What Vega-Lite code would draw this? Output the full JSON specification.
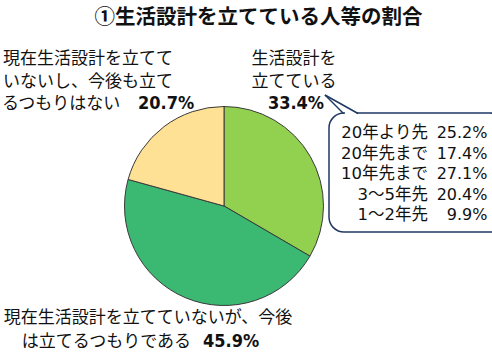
{
  "$schema": "https://vega.github.io/schema/vega-lite/v6.json",
  "width": 492,
  "height": 356,
  "padding": 0,
  "autosize": {"type": "fit", "contains": "padding"},
  "background": "white",
  "config": {
    "view": {"stroke": null},
    "axis": {"disable": true},
    "text": {"font": "DejaVu Sans, Noto Sans CJK JP", "fontSize": 17, "baseline": "middle", "color": "#111111"}
  },
  "datasets": {
    "slices": [
      {"no": 1, "item": "生活設計を立てている", "share": 0.334},
      {"no": 2, "item": "現在生活設計を立てていないが、今後は立てるつもりである", "share": 0.459},
      {"no": 3, "item": "現在生活設計を立てていないし、今後も立てるつもりはない", "share": 0.207}
    ],
    "breakdown": [
      {"period": "20年より先", "share": 0.252},
      {"period": "20年先まで", "share": 0.174},
      {"period": "10年先まで", "share": 0.271},
      {"period": "3～5年先", "share": 0.204},
      {"period": "1～2年先", "share": 0.099}
    ]
  },
  "resolve": {"scale": {"y": "independent"}},
  "layer": [
    {
      "data": {"values": [{"title": "①生活設計を立てている人等の割合"}]},
      "mark": {"type": "text", "fontSize": 20.5, "fontWeight": "bold", "align": "center", "font": "Noto Sans CJK JP"},
      "encoding": {
        "x": {"datum": 258.5, "type": "quantitative", "scale": {"domain": [0, 492], "nice": false, "zero": false}},
        "y": {"datum": 17.5, "type": "quantitative", "scale": {"domain": [0, 356], "nice": false, "zero": false, "reverse": true}},
        "text": {"field": "title"}
      }
    },
    {
      "data": {"name": "slices"},
      "mark": {"type": "arc", "outerRadius": 99.5, "stroke": "#3a3a3a", "strokeWidth": 1},
      "encoding": {
        "x": {"datum": 224, "type": "quantitative", "scale": {"domain": [0, 492], "nice": false, "zero": false}},
        "y": {"datum": 206, "type": "quantitative", "scale": {"domain": [0, 356], "nice": false, "zero": false, "reverse": true}},
        "theta": {"field": "share", "type": "quantitative", "stack": true},
        "order": {"field": "no", "type": "quantitative"},
        "color": {
          "field": "item", "type": "nominal", "legend": null,
          "scale": {
            "domain": ["生活設計を立てている", "現在生活設計を立てていないが、今後は立てるつもりである", "現在生活設計を立てていないし、今後も立てるつもりはない"],
            "range": ["#92D050", "#3BB872", "#FFE195"]
          }
        }
      }
    },
    {
      "data": {"values": [{"text": ["生活設計を", "立てている"]}]},
      "mark": {"type": "text", "align": "center", "lineHeight": 22.5},
      "encoding": {
        "x": {"datum": 294, "type": "quantitative", "scale": {"domain": [0, 492], "nice": false, "zero": false}},
        "y": {"datum": 59, "type": "quantitative", "scale": {"domain": [0, 356], "nice": false, "zero": false, "reverse": true}},
        "text": {"field": "text"}
      }
    },
    {
      "data": {"values": [{"text": ["現在生活設計を立てて", "いないし、今後も立て"]}]},
      "mark": {"type": "text", "align": "left", "lineHeight": 22.5},
      "encoding": {
        "x": {"datum": 3, "type": "quantitative", "scale": {"domain": [0, 492], "nice": false, "zero": false}},
        "y": {"datum": 59, "type": "quantitative", "scale": {"domain": [0, 356], "nice": false, "zero": false, "reverse": true}},
        "text": {"field": "text"}
      }
    },
    {
      "data": {"values": [{"text": "るつもりはない"}]},
      "mark": {"type": "text", "align": "left"},
      "encoding": {
        "x": {"datum": 2, "type": "quantitative", "scale": {"domain": [0, 492], "nice": false, "zero": false}},
        "y": {"datum": 104, "type": "quantitative", "scale": {"domain": [0, 356], "nice": false, "zero": false, "reverse": true}},
        "text": {"field": "text"}
      }
    },
    {
      "data": {"values": [{"text": "現在生活設計を立てていないが、今後"}]},
      "mark": {"type": "text", "align": "center"},
      "encoding": {
        "x": {"datum": 148, "type": "quantitative", "scale": {"domain": [0, 492], "nice": false, "zero": false}},
        "y": {"datum": 318, "type": "quantitative", "scale": {"domain": [0, 356], "nice": false, "zero": false, "reverse": true}},
        "text": {"field": "text"}
      }
    },
    {
      "data": {"values": [{"text": "は立てるつもりである"}]},
      "mark": {"type": "text", "align": "right"},
      "encoding": {
        "x": {"datum": 191, "type": "quantitative", "scale": {"domain": [0, 492], "nice": false, "zero": false}},
        "y": {"datum": 342, "type": "quantitative", "scale": {"domain": [0, 356], "nice": false, "zero": false, "reverse": true}},
        "text": {"field": "text"}
      }
    },
    {
      "data": {"name": "slices"},
      "transform": [{"filter": "datum.no == 1"}],
      "mark": {"type": "text", "align": "center", "fontWeight": "bold", "fontSize": 18, "font": "DejaVu Sans Condensed, DejaVu Sans"},
      "encoding": {
        "x": {"datum": 296, "type": "quantitative", "scale": {"domain": [0, 492], "nice": false, "zero": false}},
        "y": {"datum": 104, "type": "quantitative", "scale": {"domain": [0, 356], "nice": false, "zero": false, "reverse": true}},
        "text": {"field": "share", "type": "quantitative", "format": ".1%"}
      }
    },
    {
      "data": {"name": "slices"},
      "transform": [{"filter": "datum.no == 3"}],
      "mark": {"type": "text", "align": "left", "fontWeight": "bold", "fontSize": 18, "font": "DejaVu Sans Condensed, DejaVu Sans"},
      "encoding": {
        "x": {"datum": 138, "type": "quantitative", "scale": {"domain": [0, 492], "nice": false, "zero": false}},
        "y": {"datum": 104, "type": "quantitative", "scale": {"domain": [0, 356], "nice": false, "zero": false, "reverse": true}},
        "text": {"field": "share", "type": "quantitative", "format": ".1%"}
      }
    },
    {
      "data": {"name": "slices"},
      "transform": [{"filter": "datum.no == 2"}],
      "mark": {"type": "text", "align": "left", "fontWeight": "bold", "fontSize": 18, "font": "DejaVu Sans Condensed, DejaVu Sans"},
      "encoding": {
        "x": {"datum": 203, "type": "quantitative", "scale": {"domain": [0, 492], "nice": false, "zero": false}},
        "y": {"datum": 342, "type": "quantitative", "scale": {"domain": [0, 356], "nice": false, "zero": false, "reverse": true}},
        "text": {"field": "share", "type": "quantitative", "format": ".1%"}
      }
    },
    {
      "data": {"values": [{"note": "callout"}]},
      "mark": {"type": "rect", "cornerRadius": 15, "fill": "white", "stroke": "#1F3864", "strokeWidth": 1.5, "clip": true},
      "encoding": {
        "x": {"datum": 329, "type": "quantitative", "scale": {"domain": [0, 492], "nice": false, "zero": false}},
        "x2": {"datum": 505},
        "y": {"datum": 113, "type": "quantitative", "scale": {"domain": [0, 356], "nice": false, "zero": false, "reverse": true}},
        "y2": {"datum": 232}
      }
    },
    {
      "data": {"values": [{"note": "tail gap"}]},
      "mark": {"type": "rule", "stroke": "white", "strokeWidth": 3},
      "encoding": {
        "x": {"datum": 345, "type": "quantitative", "scale": {"domain": [0, 492], "nice": false, "zero": false}},
        "x2": {"datum": 356.5},
        "y": {"datum": 113, "type": "quantitative", "scale": {"domain": [0, 356], "nice": false, "zero": false, "reverse": true}},
        "y2": {"datum": 113}
      }
    },
    {
      "data": {"values": [{"note": "tail upper"}]},
      "mark": {"type": "rule", "stroke": "#1F3864", "strokeWidth": 1.5},
      "encoding": {
        "x": {"datum": 325, "type": "quantitative", "scale": {"domain": [0, 492], "nice": false, "zero": false}},
        "x2": {"datum": 358},
        "y": {"datum": 95, "type": "quantitative", "scale": {"domain": [0, 356], "nice": false, "zero": false, "reverse": true}},
        "y2": {"datum": 113.5}
      }
    },
    {
      "data": {"values": [{"note": "tail lower"}]},
      "mark": {"type": "rule", "stroke": "#1F3864", "strokeWidth": 1.5},
      "encoding": {
        "x": {"datum": 325, "type": "quantitative", "scale": {"domain": [0, 492], "nice": false, "zero": false}},
        "x2": {"datum": 343.5},
        "y": {"datum": 95, "type": "quantitative", "scale": {"domain": [0, 356], "nice": false, "zero": false, "reverse": true}},
        "y2": {"datum": 113.5}
      }
    },
    {
      "data": {"name": "breakdown"},
      "mark": {"type": "text", "align": "right", "fontSize": 16.5},
      "encoding": {
        "x": {"datum": 428, "type": "quantitative", "scale": {"domain": [0, 492], "nice": false, "zero": false}},
        "y": {"field": "period", "type": "ordinal", "sort": null, "scale": {"type": "point", "range": [133, 215], "padding": 0}},
        "text": {"field": "period"}
      }
    },
    {
      "data": {"name": "breakdown"},
      "mark": {"type": "text", "align": "right", "fontSize": 16, "font": "DejaVu Sans"},
      "encoding": {
        "x": {"datum": 487.5, "type": "quantitative", "scale": {"domain": [0, 492], "nice": false, "zero": false}},
        "y": {"field": "period", "type": "ordinal", "sort": null, "scale": {"type": "point", "range": [133, 215], "padding": 0}},
        "text": {"field": "share", "type": "quantitative", "format": ".1%"}
      }
    }
  ]
}
